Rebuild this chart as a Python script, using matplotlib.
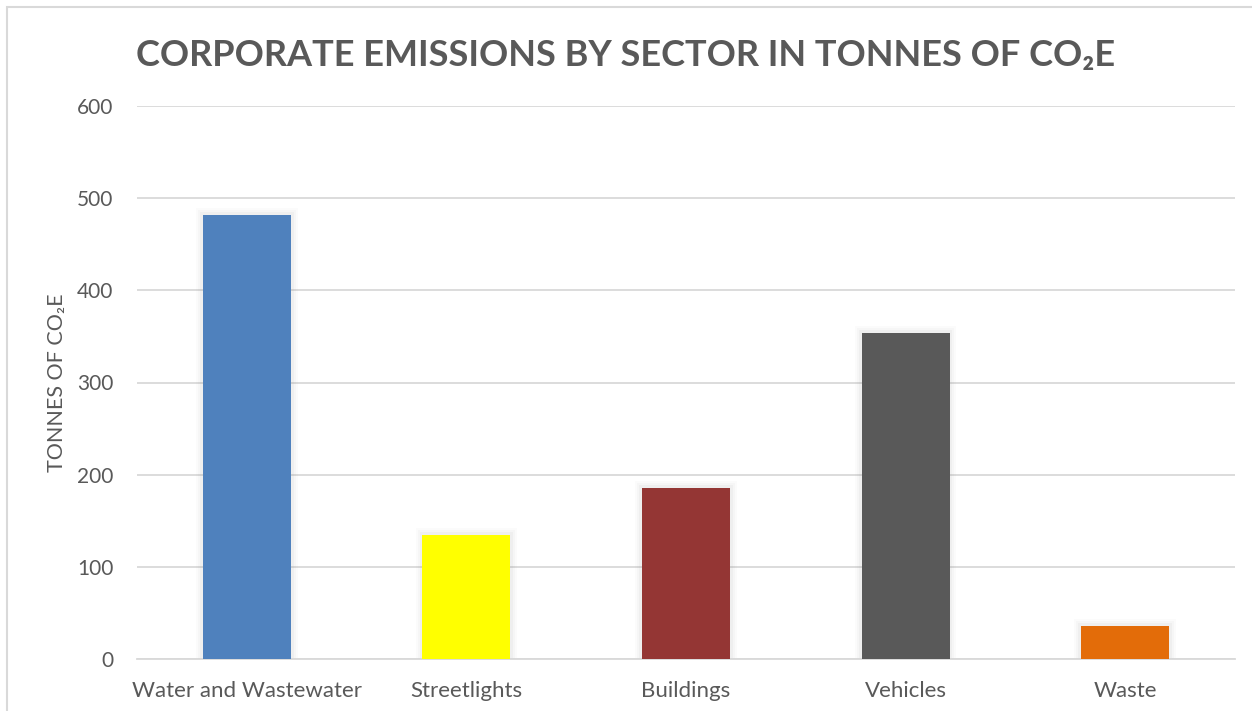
import numpy as np
import matplotlib
matplotlib.use("Agg")
import matplotlib.pyplot as plt
from matplotlib.patches import Rectangle

plt.rcParams['font.family'] = ['Lato', 'DejaVu Sans']

sectors = ["Water and Wastewater", "Streetlights", "Buildings", "Vehicles", "Waste"]
tonnes = [482, 134, 185, 354, 36]
colors = ["#4F81BD", "#FFFF00", "#943634", "#595959", "#E36C09"]
yticks = [0, 100, 200, 300, 400, 500, 600]

W, H = 1252, 711
fig = plt.figure(figsize=(W / 100, H / 100), dpi=100)

# plot area in pixels: left, top, right, bottom
L, T, R, B = 137, 106, 1235, 659
ax = fig.add_axes([L / W, 1 - B / H, (R - L) / W, (B - T) / H])

x = np.arange(len(sectors))

# soft grey shadow behind each bar
for xi, v in zip(x, tonnes):
    for k, a in zip([7, 5, 3], [0.025, 0.035, 0.05]):
        pad = k * 0.0045
        ax.add_patch(Rectangle((xi - 0.2 - pad, 0), 0.4 + 2 * pad, v + k * 1.1,
                               facecolor="#7F7F7F", alpha=a, lw=0, zorder=2))

ax.bar(x, tonnes, width=0.4, color=colors, zorder=3)

ax.set_xlim(-0.5, len(sectors) - 0.5)
ax.set_ylim(0, 600)
ax.set_yticks(yticks)
ax.set_xticks(x)
ax.set_xticklabels(sectors)
ax.yaxis.grid(True, color="#D9D9D9", lw=1.3, zorder=0)
ax.set_axisbelow(True)
for s in ["top", "right", "left"]:
    ax.spines[s].set_visible(False)
ax.spines["bottom"].set_color("#D9D9D9")
ax.spines["bottom"].set_linewidth(1.3)
ax.tick_params(axis="both", length=0, labelcolor="#595959")
ax.tick_params(axis="y", pad=17, labelsize=15)
ax.tick_params(axis="x", pad=16, labelsize=16)

fig.text(57 / W, 1 - 383 / H, "TONNES OF CO₂E", rotation=90, ha="center", va="center",
         fontsize=15.5, color="#595959")

fig.text(0.5, 1 - 56 / H, "CORPORATE EMISSIONS BY SECTOR IN TONNES OF CO₂E",
         ha="center", va="center", fontsize=26, fontweight="bold", color="#595959")

# chart frame, partly cut by the image edge
fig.patches.append(Rectangle((7 / W, -0.1), 1.2, 1 - 7 / H + 0.1, transform=fig.transFigure,
                             fill=False, edgecolor="#D9D9D9", lw=1.5))
fig.text(22 / W, 1 + 6 / H, "Fig", ha="left", va="baseline", fontsize=16, color="black")

fig.savefig("out.png", dpi=100)
